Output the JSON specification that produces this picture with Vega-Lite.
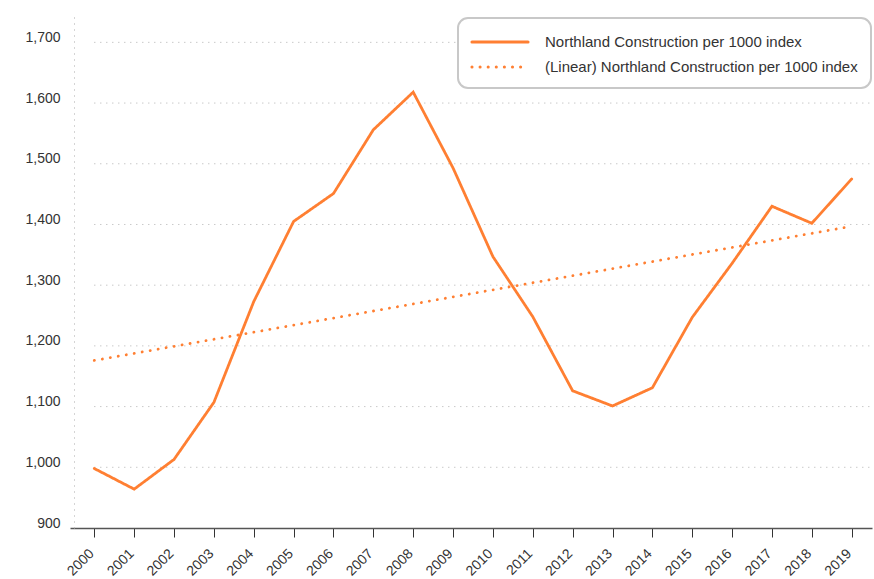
{
  "$schema": "https://vega.github.io/schema/vega-lite/v6.json",
  "autosize": "none",
  "width": 802,
  "height": 516,
  "padding": {"left": 70, "top": 12, "right": 2, "bottom": 51},
  "background": "white",
  "config": {
    "view": {"stroke": null},
    "font": "Liberation Sans"
  },
  "layer": [
    {
      "data": {"values": [
        {"tick": 1000, "from": 2000, "to": 2019.51}, {"tick": 1100, "from": 2000, "to": 2019.51},
        {"tick": 1200, "from": 2000, "to": 2019.51}, {"tick": 1300, "from": 2000, "to": 2019.51},
        {"tick": 1400, "from": 2000, "to": 2019.51}, {"tick": 1500, "from": 2000, "to": 2019.51},
        {"tick": 1600, "from": 2000, "to": 2019.51}, {"tick": 1700, "from": 2000, "to": 2019.51}
      ]},
      "mark": {"type": "rule", "color": "#b0b0b0", "strokeWidth": 1, "strokeDash": [1, 5]},
      "encoding": {
        "y": {"field": "tick", "type": "quantitative", "scale": {"domain": [900, 1750], "nice": false, "zero": false}},
        "x": {"field": "from", "type": "quantitative", "scale": {"domain": [1999.39, 2019.51], "nice": false, "zero": false}},
        "x2": {"field": "to"}
      }
    },
    {
      "data": {"values": [
        {"year": 2000, "value": 998, "series": "Northland Construction per 1000 index"},
        {"year": 2001, "value": 964, "series": "Northland Construction per 1000 index"},
        {"year": 2002, "value": 1013, "series": "Northland Construction per 1000 index"},
        {"year": 2003, "value": 1107, "series": "Northland Construction per 1000 index"},
        {"year": 2004, "value": 1273, "series": "Northland Construction per 1000 index"},
        {"year": 2005, "value": 1405, "series": "Northland Construction per 1000 index"},
        {"year": 2006, "value": 1451, "series": "Northland Construction per 1000 index"},
        {"year": 2007, "value": 1556, "series": "Northland Construction per 1000 index"},
        {"year": 2008, "value": 1618, "series": "Northland Construction per 1000 index"},
        {"year": 2009, "value": 1493, "series": "Northland Construction per 1000 index"},
        {"year": 2010, "value": 1347, "series": "Northland Construction per 1000 index"},
        {"year": 2011, "value": 1248, "series": "Northland Construction per 1000 index"},
        {"year": 2012, "value": 1126, "series": "Northland Construction per 1000 index"},
        {"year": 2013, "value": 1101, "series": "Northland Construction per 1000 index"},
        {"year": 2014, "value": 1131, "series": "Northland Construction per 1000 index"},
        {"year": 2015, "value": 1247, "series": "Northland Construction per 1000 index"},
        {"year": 2016, "value": 1336, "series": "Northland Construction per 1000 index"},
        {"year": 2017, "value": 1430, "series": "Northland Construction per 1000 index"},
        {"year": 2018, "value": 1402, "series": "Northland Construction per 1000 index"},
        {"year": 2019, "value": 1475, "series": "Northland Construction per 1000 index"},
        {"year": 2000, "value": 1176, "series": "(Linear) Northland Construction per 1000 index"},
        {"year": 2019, "value": 1397, "series": "(Linear) Northland Construction per 1000 index"}
      ]},
      "mark": {"type": "line", "color": "#ff7f32", "strokeWidth": 2.8, "strokeCap": "round"},
      "encoding": {
        "x": {
          "field": "year", "type": "quantitative",
          "scale": {"domain": [1999.39, 2019.51], "nice": false, "zero": false},
          "axis": {
            "title": null,
            "values": [2000, 2001, 2002, 2003, 2004, 2005, 2006, 2007, 2008, 2009, 2010, 2011, 2012, 2013, 2014, 2015, 2016, 2017, 2018, 2019],
            "format": "d",
            "grid": false,
            "domainColor": "#555555",
            "domainWidth": 1.5,
            "tickColor": "#333333",
            "tickSize": 9,
            "tickWidth": 1,
            "labelAngle": -45,
            "labelAlign": "right",
            "labelBaseline": "alphabetic",
            "labelFontSize": 14,
            "labelColor": "#333333",
            "labelPadding": 17,
            "labelFlush": false,
            "labelOverlap": false
          }
        },
        "y": {
          "field": "value", "type": "quantitative",
          "scale": {"domain": [900, 1750], "nice": false, "zero": false},
          "axis": {
            "title": null,
            "values": [900, 1000, 1100, 1200, 1300, 1400, 1500, 1600, 1700],
            "format": ",d",
            "grid": false,
            "offset": -4,
            "domainColor": "#aaaaaa",
            "domainDash": [1, 5],
            "domainWidth": 1,
            "ticks": false,
            "labelPadding": 14,
            "labelOffset": -5,
            "labelFontSize": 14,
            "labelColor": "#333333",
            "labelFlush": false
          }
        },
        "strokeDash": {
          "field": "series", "type": "nominal",
          "scale": {
            "domain": ["Northland Construction per 1000 index", "(Linear) Northland Construction per 1000 index"],
            "range": [[1, 0], [0.1, 8]]
          },
          "legend": {
            "title": null,
            "orient": "none",
            "legendX": 388,
            "legendY": 6,
            "padding": 13,
            "strokeColor": "#c8c8c8",
            "cornerRadius": 10,
            "fillColor": "white",
            "symbolType": "M-3,0H3",
            "symbolSize": 350,
            "symbolStrokeWidth": 3,
            "symbolStrokeColor": "#ff7f32",
            "symbolOffset": 18,
            "labelFontSize": 15,
            "labelColor": "#333333",
            "labelOffset": 34,
            "labelLimit": 400,
            "rowPadding": 6,
            "encode": {
              "legend": {"update": {"strokeWidth": {"value": 2}}},
              "symbols": {"update": {"strokeCap": {"value": "round"}}}
            }
          }
        }
      }
    }
  ]
}
